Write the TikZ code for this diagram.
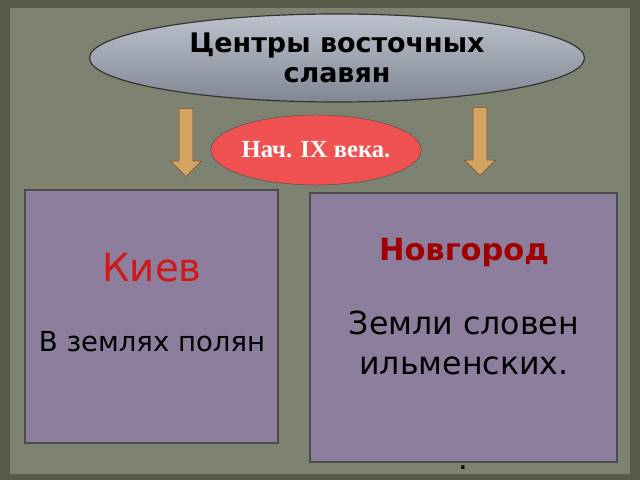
\documentclass[tikz,border=0pt]{standalone}
\usepackage{fontspec}
\setmainfont{DejaVu Sans}
\newfontfamily\serifru{Liberation Serif}
\usetikzlibrary{shapes.geometric,shapes.arrows}
\definecolor{bgouter}{HTML}{565A48}
\definecolor{bginner}{HTML}{7E8270}
\definecolor{ovalblue}{HTML}{A0A8B8}
\definecolor{ovalred}{HTML}{F05252}
\definecolor{boxviolet}{HTML}{8C7E9C}
\definecolor{arrowtan}{HTML}{D6A462}
\definecolor{kievred}{HTML}{D01818}
\definecolor{novred}{HTML}{A00000}
\tikzset{
  panel/.style={draw=gray!60!black, line width=1.2pt, fill=boxviolet},
  downarrow/.style={single arrow, draw=brown!60!black, fill=arrowtan, rotate=-90,
    minimum height=68*0.03cm, inner sep=0.2cm, single arrow head extend=0.25cm}
}
\begin{document}
\begin{tikzpicture}[x=0.03cm,y=-0.03cm]
\useasboundingbox (0,0) rectangle (640,480);
\fill[bgouter] (0,0) rectangle (640,480);
\fill[bginner] (10,8) rectangle (630,474);

% top oval
\node[ellipse, draw=gray!40!black, line width=1pt, top color=ovalblue!70!white, bottom color=ovalblue!80!black,
  minimum width=495*0.03cm, minimum height=88*0.03cm, inner sep=0pt, align=center,
  font=\bfseries\fontsize{23}{26}\selectfont]
  (centres) at (337,58) {Центры восточных\\славян};

% arrows
\node[downarrow] (arrowL) at (186,139) {};
\node[downarrow] (arrowR) at (480,138) {};

% date
\node[ellipse, draw=gray!60!black, fill=ovalred, text=white, minimum width=200*0.03cm, minimum height=70*0.03cm,
  inner sep=0pt, font=\serifru\bfseries\fontsize{21}{24}\selectfont] (date) at (316,150) {Нач. IX века.};

% panels
\draw[panel] (25,190) rectangle (278,443);
\draw[panel] (310,193) rectangle (617,462);
\node[text=kievred, font=\fontsize{33}{36}\selectfont] (kiev) at (152,268) {Киев};
\node[font=\fontsize{23.5}{26}\selectfont] (kievland) at (152,342) {В землях полян};
\node[text=novred, font=\bfseries\fontsize{26}{28}\selectfont] (novgorod) at (464,253) {Новгород};
\node[align=center, font=\fontsize{27}{34}\selectfont] (novland) at (464,343) {Земли словен\\ильменских.};
\node[font=\fontsize{26}{28}\selectfont] (dot) at (463,468) {.};
\end{tikzpicture}
\end{document}
